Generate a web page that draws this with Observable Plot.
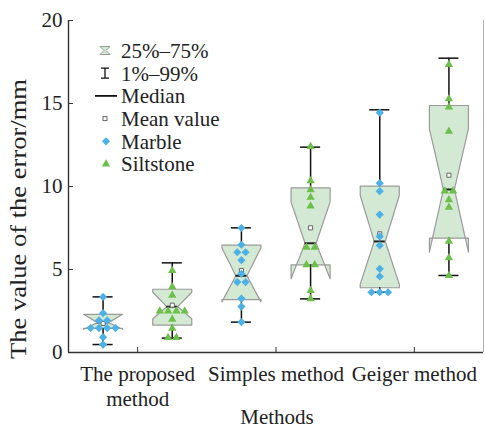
<!DOCTYPE html>
<html><head><meta charset="utf-8">
<script src="https://cdn.jsdelivr.net/npm/d3@7"></script>
<script src="https://cdn.jsdelivr.net/npm/@observablehq/plot@0.6"></script>
<style>body{margin:0;background:#fff} #chart{width:485px;height:428px}</style>
</head><body><div id="chart"></div>
<script>
// ---- data ----
const methods = ["The proposed\nmethod", "Simples method", "Geiger method"];
const rocks = ["Marble", "Siltstone"];
const yTicks = [0, 5, 10, 15, 20];
const yTitle = "The value of the error/mm";
const xTitle = "Methods";
const legendLabels = ["25%\u201375%", "1%\u201399%", "Median", "Mean value", "Marble", "Siltstone"];

// box statistics, one per box: proposed-marble, proposed-siltstone, simples-marble, simples-siltstone, geiger-marble, geiger-siltstone
const p1      = [0.48, 0.87, 1.83, 3.23, 3.63, 4.64];
const q1      = [1.45, 1.65, 3.19, 5.28, 3.90, 6.89];
const median  = [1.80, 2.76, 4.62, 6.58, 6.69, 9.82];
const q3      = [2.30, 3.81, 6.47, 9.92, 10.02, 14.88];
const p99     = [3.35, 5.40, 7.51, 12.37, 14.62, 17.73];
const notchLo = [1.40, 2.03, 3.05, 4.44, 4.12, 6.04];
const notchHi = [2.30, 3.63, 6.30, 9.06, 9.46, 13.47];
const meanVal = [1.75, 2.85, 4.94, 7.51, 7.15, 10.68];

const proposedMarble    = [3.35, 2.37, 1.93, 1.93, 1.47, 1.47, 1.47, 1.47, 0.92, 0.48];
const proposedSiltstone = [4.94, 3.95, 3.45, 2.50, 2.50, 2.50, 2.50, 2.00, 1.45, 0.90, 0.90];
const simplesMarble     = [7.50, 6.49, 6.04, 6.04, 5.56, 4.74, 4.24, 4.24, 3.25, 2.77, 1.83];
const simplesSiltstone  = [12.40, 10.34, 9.80, 9.34, 8.82, 6.33, 6.33, 5.28, 5.28, 3.73, 3.23];
const geigerMarble      = [14.45, 10.20, 9.72, 8.31, 6.99, 6.45, 5.04, 4.58, 3.63, 3.63, 3.63];
const geigerSiltstone   = [17.35, 15.28, 14.78, 13.33, 9.72, 9.72, 9.20, 8.75, 6.70, 5.70, 4.64];

const boxPoints = [proposedMarble, proposedSiltstone, simplesMarble, simplesSiltstone, geigerMarble, geigerSiltstone];
const boxRock = boxPoints.map((_, i) => rocks[i % 2]);

// ---- derived tables ----
const HW = 0.282, NW = 0.08, CAP = 0.145, DODGE = 0.12;
const boxes = boxPoints.map((_, i) => ({i, c: i + 1, p1: p1[i], q1: q1[i], med: median[i], q3: q3[i], p99: p99[i], nl: notchLo[i], nh: notchHi[i], mean: meanVal[i], rock: boxRock[i]}));
const outline = [];
boxes.forEach(b => {
  const c = b.c;
  [[c-HW,b.q3],[c+HW,b.q3],[c+HW,b.nh],[c+NW,b.med],[c+HW,b.nl],[c+HW,b.q1],[c-HW,b.q1],[c-HW,b.nl],[c-NW,b.med],[c-HW,b.nh],[c-HW,b.q3]]
    .forEach(([x, y]) => outline.push({box: b.i, x, y}));
});
const whiskers = boxes.flatMap(b => [{c: b.c, lo: b.q3, hi: b.p99}, {c: b.c, lo: b.p1, hi: b.q1}]);
const caps = boxes.flatMap(b => [{c: b.c, v: b.p99}, {c: b.c, v: b.p1}]);
const pts = [];
boxPoints.forEach((vals, i) => {
  const counts = d3.rollup(vals, v => v.length, v => v);
  const seen = new Map();
  vals.forEach(v => {
    const n = counts.get(v), k = seen.get(v) || 0; seen.set(v, k + 1);
    pts.push({x: i + 1 + (k - (n - 1) / 2) * DODGE, y: v, rock: boxRock[i]});
  });
});
const methodTicks = methods.map((_, j) => 2 * j + 1.5);
const methodLabel = new Map(methodTicks.map((t, j) => [t, methods[j]]));
const xDomain = [0.5, boxPoints.length + 0.5];
const yDomain = [yTicks[0], yTicks[yTicks.length - 1]];

const BLUE = "#4cb1e6", GREEN = "#6cbf4a", BOXFILL = "#d4e9d4", BOXEDGE = "#9a9a9a", INK = "#222";
const FONT = "'Liberation Serif', 'Times New Roman', serif";

const plot = Plot.plot({
  width: 485, height: 428,
  marginLeft: 68, marginRight: 2, marginTop: 20, marginBottom: 76,
  style: {fontFamily: FONT, fontSize: "21px", color: INK, background: "white", overflow: "visible"},
  x: {type: "linear", domain: xDomain},
  y: {domain: yDomain},
  marks: [
    Plot.line(outline, {x: "x", y: "y", z: "box", fill: BOXFILL, stroke: BOXEDGE, strokeWidth: 1.2, curve: "linear"}),
    Plot.ruleX(whiskers, {x: "c", y1: "lo", y2: "hi", stroke: "#111", strokeWidth: 1.5}),
    Plot.ruleY(caps, {y: "v", x1: d => d.c - CAP, x2: d => d.c + CAP, stroke: "#111", strokeWidth: 1.5}),
    Plot.ruleY(boxes, {y: "med", x1: d => d.c - NW, x2: d => d.c + NW, stroke: "#222", strokeWidth: 2}),
    Plot.dot(boxes, {x: "c", y: "mean", symbol: "square", r: 2.3, stroke: "#666", fill: "white", strokeWidth: 1}),
    Plot.dot(pts.filter(d => d.rock === rocks[0]), {x: "x", y: "y", symbol: "diamond2", r: 3.7, fill: BLUE, stroke: "none"}),
    Plot.dot(pts.filter(d => d.rock === rocks[1]), {x: "x", y: "y", symbol: "triangle", r: 3.1, fill: GREEN, stroke: "none"}),
    Plot.ruleX([xDomain[1]], {stroke: "#b0b0b0", strokeWidth: 1}),
    Plot.ruleX([xDomain[0]], {stroke: "#333", strokeWidth: 1.4}),
    Plot.ruleY([yDomain[0]], {stroke: "#333", strokeWidth: 1.4}),
    Plot.axisY(yTicks, {tickSize: 0, tickPadding: 6, fontSize: 21, fontFamily: FONT, fill: INK, label: null}),
    Plot.axisY(yTicks, {tickSize: -5, tickFormat: () => "", label: null, stroke: "#333"}),
    Plot.axisX(methodTicks, {tickSize: 0, tickPadding: 11, fontSize: 21, fontFamily: FONT, fill: INK, lineHeight: 1.19, tickFormat: d => methodLabel.get(d), label: null}),
    Plot.axisX(methodTicks, {tickSize: -5, tickFormat: () => "", label: null, stroke: "#333"})
  ]
});

const svg = d3.select(plot);
svg.append("text")
  .attr("transform", "translate(26,219) rotate(-90)")
  .attr("text-anchor", "middle").attr("font-size", 24).attr("fill", INK)
  .attr("textLength", 280).attr("lengthAdjust", "spacingAndGlyphs")
  .text(yTitle);
svg.append("text")
  .attr("x", 277).attr("y", 424)
  .attr("text-anchor", "middle").attr("font-size", 21).attr("fill", INK)
  .text(xTitle);

// legend
const lg = svg.append("g").attr("font-size", 21).attr("fill", INK).attr("text-anchor", "start");
const ix = 105, tx = 121, y0 = 50.5, dy = 22.7;
legendLabels.forEach((t, k) => {
  const y = y0 + k * dy;
  lg.append("text").attr("x", tx).attr("y", y).attr("dy", "0.35em").attr("text-anchor", "start").text(t);
  if (k === 0) lg.append("path").attr("d", `M${ix-5},${y-4}H${ix+5}L${ix+1},${y}L${ix+5},${y+4}H${ix-5}L${ix-1},${y}Z`).attr("fill", BOXFILL).attr("stroke", BOXEDGE);
  if (k === 1) lg.append("path").attr("d", `M${ix-4},${y-5}H${ix+4}M${ix},${y-5}V${y+5}M${ix-4},${y+5}H${ix+4}`).attr("stroke", "#111").attr("stroke-width", 1.3).attr("fill", "none");
  if (k === 2) lg.append("path").attr("d", `M${ix-10},${y}H${ix+12}`).attr("stroke", "#111").attr("stroke-width", 1.8);
  if (k === 3) lg.append("rect").attr("x", ix - 2).attr("y", y - 2).attr("width", 4).attr("height", 4).attr("fill", "white").attr("stroke", "#666");
  if (k === 4) lg.append("path").attr("d", d3.symbol(d3.symbolDiamond2, Math.PI * 3.7 * 3.7)()).attr("transform", `translate(${ix + 1},${y})`).attr("fill", BLUE);
  if (k === 5) lg.append("path").attr("d", d3.symbol(d3.symbolTriangle, Math.PI * 3.1 * 3.1)()).attr("transform", `translate(${ix + 1},${y})`).attr("fill", GREEN);
});

// force the serif face on every text element
svg.style("font-family", FONT);
svg.selectAll("text").style("font-family", FONT);

document.getElementById("chart").appendChild(plot);
</script>
</body></html>
